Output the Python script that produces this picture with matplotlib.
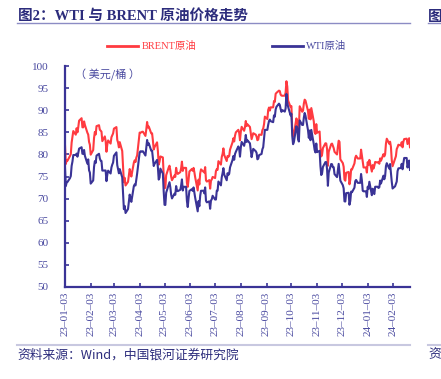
import matplotlib
matplotlib.use("Agg")
import matplotlib.pyplot as plt
import matplotlib.dates as mdates
import pandas as pd

# daily closes, business days 2023-01-03 .. 2024-02-23 (holidays carried forward)
brent = [
    # 2023-01
    82.10, 77.84, 78.69, 78.57, 79.65, 80.10, 82.67, 84.03, 85.28, 84.46, 85.92,
    84.98, 86.16, 87.63, 88.19, 86.13, 86.12, 87.47, 86.66, 84.90, 84.49,
    # 2023-02
    82.84, 82.17, 79.94, 80.99, 83.69, 85.09, 84.50, 86.39, 86.61, 85.58,
    85.38, 85.14, 83.00, 84.07, 83.05, 80.60, 82.21, 83.16, 82.45, 83.89,
    # 2023-03
    84.31, 84.75, 85.83, 86.18, 83.29, 82.66, 81.59, 82.78, 80.77, 77.45, 73.69,
    74.70, 72.97, 73.79, 75.32, 76.69, 75.91, 74.99, 78.12, 78.65, 78.28, 79.27, 79.77,
    # 2023-04
    84.93, 84.94, 84.99, 85.12, 85.12, 84.18, 85.61, 87.33, 86.09, 86.31,
    84.76, 84.77, 83.12, 81.10, 81.66, 82.73, 80.77, 77.69, 78.37, 79.54,
    # 2023-05
    79.31, 75.32, 72.33, 72.50, 75.30, 77.01, 77.44, 76.41, 74.98, 74.17, 75.23,
    74.91, 76.96, 75.86, 75.58, 75.99, 76.84, 78.36, 76.26, 76.95, 76.95, 73.54, 72.66,
    # 2023-06
    74.28, 76.13, 76.71, 76.29, 76.95, 75.96, 74.79, 71.84, 74.29, 73.20, 75.67,
    76.61, 76.09, 75.90, 77.12, 74.14, 73.85, 74.18, 72.26, 74.03, 74.34, 74.90,
    # 2023-07
    74.65, 76.25, 76.65, 76.52, 78.47, 77.69, 79.40, 80.11, 81.36, 79.87, 78.50,
    79.63, 79.46, 79.64, 81.07, 82.74, 83.64, 82.92, 84.24, 84.99, 85.56,
    # 2023-08
    84.91, 83.20, 85.14, 86.24, 85.34, 86.17, 87.55, 86.40, 86.81, 86.21, 84.89,
    83.45, 84.12, 84.80, 84.46, 84.03, 83.21, 83.36, 84.48, 84.42, 85.49, 85.86, 86.83,
    # 2023-09
    88.55, 88.00, 90.04, 90.60, 89.92, 90.65, 90.64, 92.06, 91.88, 93.70, 93.93,
    94.43, 94.34, 93.53, 93.30, 93.27, 93.29, 93.96, 96.55, 95.38, 92.20,
    # 2023-10
    90.71, 90.92, 85.81, 84.07, 84.58, 88.15, 87.65, 85.82, 86.00, 90.89, 89.65,
    89.90, 91.50, 92.38, 92.16, 89.83, 88.07, 90.13, 87.93, 90.48, 87.45, 85.02,
    # 2023-11
    84.63, 86.85, 84.89, 85.18, 81.61, 79.54, 80.01, 81.43, 82.52, 82.47, 81.18,
    77.42, 80.61, 82.32, 82.45, 81.96, 81.42, 80.58, 79.98, 81.68, 83.10, 82.83,
    # 2023-12
    78.88, 78.03, 77.20, 74.30, 74.05, 75.84, 76.03, 73.24, 74.26, 76.61, 76.55,
    77.95, 79.23, 79.70, 79.39, 79.07, 79.07, 81.07, 79.65, 78.39, 77.04,
    # 2024-01
    77.04, 75.89, 78.25, 77.59, 78.76, 76.12, 77.59, 76.80, 77.41, 78.29, 78.15, 78.29,
    77.88, 79.10, 78.56, 80.06, 79.55, 80.04, 82.43, 83.55, 82.40, 82.87, 81.71,
    # 2024-02
    78.70, 77.33, 78.99, 79.59, 81.21, 81.63, 82.19, 82.00, 82.77, 81.60, 82.86,
    83.47, 83.56, 82.34, 83.03, 83.67, 81.62,
]

wti = [
    # 2023-01
    76.93, 72.84, 73.67, 73.77, 74.63, 75.12, 77.41, 78.39, 79.86, 79.86, 80.18,
    79.48, 80.33, 81.31, 81.62, 80.13, 80.15, 81.01, 79.68, 77.90, 78.87,
    # 2023-02
    76.41, 75.88, 73.39, 74.11, 77.14, 78.47, 78.06, 79.72, 80.14, 79.06,
    78.59, 78.49, 76.34, 76.34, 76.36, 73.95, 75.39, 76.32, 75.68, 77.05,
    # 2023-03
    77.69, 78.16, 79.68, 80.46, 77.58, 76.66, 75.72, 76.68, 74.80, 71.33, 67.61,
    68.35, 66.74, 67.64, 69.33, 70.90, 69.96, 69.26, 72.81, 73.20, 72.97, 74.37, 75.67,
    # 2023-04
    80.42, 80.71, 80.61, 80.70, 80.70, 79.74, 81.53, 83.26, 82.16, 82.52,
    80.83, 80.86, 79.16, 77.37, 77.87, 78.76, 77.07, 74.30, 74.76, 76.78,
    # 2023-05
    75.66, 71.66, 68.60, 68.56, 71.34, 73.16, 73.71, 72.56, 70.87, 70.04, 71.11,
    70.86, 72.83, 71.86, 71.69, 71.99, 72.91, 74.34, 71.83, 72.67, 72.67, 69.46, 68.09,
    # 2023-06
    70.10, 71.74, 72.15, 71.74, 72.53, 71.29, 70.17, 67.12, 69.42, 68.27, 70.62,
    71.78, 71.78, 71.19, 72.53, 69.51, 69.16, 69.37, 67.70, 69.56, 69.86, 70.64,
    # 2023-07
    69.79, 69.79, 71.79, 71.80, 73.86, 72.99, 74.83, 75.75, 76.89, 75.42, 74.15,
    75.75, 75.35, 75.63, 77.07, 78.74, 79.63, 78.78, 80.09, 80.58, 81.80,
    # 2023-08
    81.37, 79.49, 81.55, 82.82, 81.94, 82.92, 84.40, 82.82, 83.19, 82.51, 80.99,
    79.38, 80.39, 81.25, 80.72, 80.35, 78.89, 79.05, 79.83, 80.10, 81.16, 81.63, 83.63,
    # 2023-09
    85.55, 85.55, 86.69, 87.54, 87.87, 87.51, 87.29, 88.84, 88.52, 90.16, 90.77,
    91.48, 91.20, 90.28, 89.63, 90.03, 89.68, 90.39, 93.68, 91.71, 90.79,
    # 2023-10
    88.82, 89.23, 84.22, 82.31, 82.79, 86.38, 85.97, 83.49, 82.91, 87.69, 86.66,
    86.66, 88.32, 89.37, 88.75, 85.49, 83.74, 85.39, 83.21, 85.54, 82.31, 81.02,
    # 2023-11
    80.44, 82.46, 80.51, 80.82, 77.37, 75.33, 75.74, 77.17, 78.26, 78.26, 76.66,
    72.90, 75.89, 77.83, 77.77, 77.10, 77.10, 75.54, 74.86, 76.41, 77.86, 75.96,
    # 2023-12
    74.07, 73.04, 72.32, 69.38, 69.34, 71.23, 71.32, 68.61, 69.47, 71.58, 71.43,
    72.47, 73.94, 74.22, 73.89, 73.56, 73.56, 75.57, 74.11, 71.77, 71.65,
    # 2024-01
    71.65, 70.38, 72.70, 72.19, 73.81, 70.77, 72.24, 71.37, 71.02, 72.68, 72.68, 72.40,
    72.56, 74.08, 73.41, 75.19, 74.37, 75.09, 77.36, 78.01, 76.78, 77.82, 75.85,
    # 2024-02
    73.82, 72.28, 72.78, 73.31, 73.86, 76.22, 76.84, 76.92, 77.87, 76.64, 78.03,
    79.19, 79.19, 77.04, 77.91, 78.61, 76.49,
]

dates = pd.bdate_range("2023-01-03", "2024-02-23")
n = min(len(dates), len(brent), len(wti))
# ticks on the 3rd of each month
tick_dates = pd.date_range("2023-01-01", "2024-02-01", freq="MS") + pd.Timedelta(days=2)

RED = "#ff3a40"
NAVY = "#3a3396"
TXT = "#4a4aa0"
SERIF = ["Liberation Serif", "Noto Sans CJK SC"]
CJK = ["Noto Sans CJK SC", "DejaVu Sans"]

fig = plt.figure(figsize=(4.41, 3.79), dpi=100)
ax = fig.add_axes([65 / 441, 1 - 287 / 379, 345 / 441, 221 / 379])

ax.plot(dates[:n], brent[:n], color=RED, lw=1.5)
ax.plot(dates[:n], wti[:n], color=NAVY, lw=1.5)

ax.set_ylim(50, 100)
ax.set_yticks(range(50, 101, 5))
ax.set_xlim(dates[0], dates[n - 1])
ax.set_xticks(tick_dates)
ax.xaxis.set_major_formatter(mdates.DateFormatter("%y–%m–%d"))
for s in ["top", "right"]:
    ax.spines[s].set_visible(False)
for s in ["left", "bottom"]:
    ax.spines[s].set_color(NAVY)
    ax.spines[s].set_linewidth(1.6)
ax.tick_params(axis="both", direction="in", color=NAVY, width=1.2, length=3,
               labelcolor=TXT, labelsize=8)
ax.tick_params(axis="y", pad=12)
for lab in ax.get_xticklabels():
    lab.set_rotation(90)
    lab.set_family(SERIF)
for lab in ax.get_yticklabels():
    lab.set_family(SERIF)

ax.text(0.03, 0.985, "（ 美元/桶 ）", transform=ax.transAxes, ha="left", va="top",
        fontsize=8, color=TXT, family=CJK)

# title, legend, source
fig.text(18 / 441, 1 - 16 / 379, "图2：WTI 与 BRENT 原油价格走势", fontsize=10.5,
         fontweight="bold", color="#2c2c7c", family=SERIF, va="center")
fig.text(428 / 441, 1 - 16 / 379, "图", fontsize=10.5, fontweight="bold",
         color="#2c2c7c", family=CJK, va="center")
fig.add_artist(plt.Line2D([17 / 441, 410 / 441], [1 - 23 / 379] * 2, color="#8c8cc4", lw=1))
fig.add_artist(plt.Line2D([428 / 441, 1], [1 - 23 / 379] * 2, color="#8c8cc4", lw=1))

fig.add_artist(plt.Line2D([107 / 441, 138 / 441], [1 - 46 / 379] * 2, color=RED, lw=2))
fig.text(142 / 441, 1 - 46 / 379, "BRENT原油", fontsize=7.5, color=RED,
         family=SERIF, va="center")
fig.add_artist(plt.Line2D([272 / 441, 303 / 441], [1 - 46 / 379] * 2, color=NAVY, lw=2))
fig.text(306 / 441, 1 - 46 / 379, "WTI原油", fontsize=7.5, color=TXT,
         family=SERIF, va="center")

fig.add_artist(plt.Line2D([17 / 441, 410 / 441], [1 - 345 / 379] * 2, color="#c8c8e0", lw=1.5))
fig.add_artist(plt.Line2D([428 / 441, 1], [1 - 345 / 379] * 2, color="#c8c8e0", lw=1.5))
fig.text(17 / 441, 1 - 355 / 379, "资料来源：Wind，中国银河证券研究院", fontsize=9.2,
         color="#2c2c7c", family=CJK, style="italic", va="center")
fig.text(428 / 441, 1 - 355 / 379, "资", fontsize=9.2, color="#2c2c7c",
         family=CJK, va="center")

fig.savefig("out.png", dpi=100)
